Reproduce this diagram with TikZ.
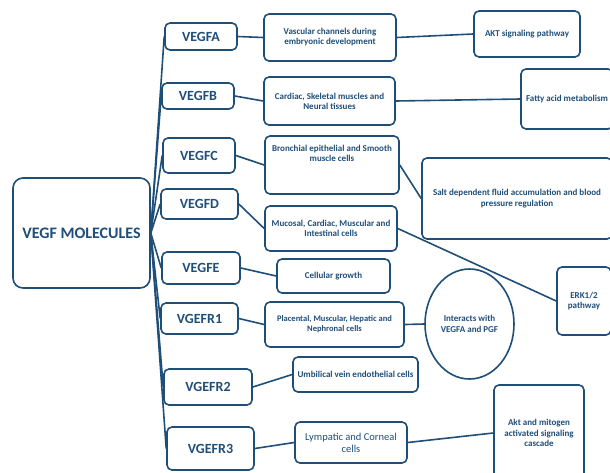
\documentclass[tikz,border=0pt]{standalone}
\usepackage{fontspec}
\setmainfont{Carlito}
\usetikzlibrary{shapes.geometric,positioning}
\definecolor{navy}{RGB}{31,78,121}

\begin{document}
\begin{tikzpicture}[
    x=1pt, y=-1pt,
    box/.style={rectangle, rounded corners=5pt, draw=navy, line width=1.6pt, fill=white, text=navy, align=center, inner sep=2pt},
    mol/.style={box, rounded corners=10pt, font=\fontsize{16}{18}\selectfont\bfseries},
    gene/.style={box, font=\fontsize{14}{16}\selectfont\bfseries},
    site/.style={box, font=\fontsize{9}{10}\selectfont\bfseries},
    role/.style={box, font=\fontsize{9}{10.5}\selectfont\bfseries},
    link/.style={draw=navy, line width=1.6pt}
]
\useasboundingbox (0,0) rectangle (610,472);

% Main node
\node[mol, minimum width=137pt, minimum height=110pt] (vegf) at (81.5,233) {VEGF MOLECULES};

% Molecules
\node[gene, minimum width=72pt, minimum height=27pt] (vegfa) at (201,36.5) {VEGFA};
\node[gene, minimum width=72pt, minimum height=26pt] (vegfb) at (198,96) {VEGFB};
\node[gene, minimum width=72pt, minimum height=35pt] (vegfc) at (199,155.5) {VEGFC};
\node[gene, minimum width=77pt, minimum height=30pt] (vegfd) at (199.5,204) {VEGFD};
\node[gene, minimum width=78pt, minimum height=32pt] (vegfe) at (201,268) {VEGFE};
\node[gene, minimum width=77pt, minimum height=31pt] (vgefra) at (199.5,318.5) {VGEFR1};
\node[gene, minimum width=88pt, minimum height=36pt] (vgefrb) at (208,387) {VGEFR2};
\node[gene, minimum width=87pt, minimum height=43pt] (vgefrc) at (210.5,448.5) {VGEFR3};

% Expression sites
\node[site, minimum width=132pt, minimum height=47pt] (vascular) at (330,37.5) {Vascular channels during\\embryonic development};
\node[site, minimum width=131pt, minimum height=48pt] (cardiac) at (329.5,101) {Cardiac, Skeletal muscles and\\Neural tissues};
\node[site, minimum width=134pt, minimum height=58pt] (bronchial) at (332,165) {Bronchial epithelial and Smooth\\muscle cells\\[14pt]};
\node[site, minimum width=132pt, minimum height=45pt] (mucosal) at (331,228.5) {Mucosal, Cardiac, Muscular and\\Intestinal cells};
\node[site, minimum width=113pt, minimum height=34pt] (growth) at (333.5,276) {Cellular growth};
\node[site, font=\fontsize{8.5}{10}\selectfont\bfseries, minimum width=139pt, minimum height=45pt] (placental) at (334.5,324.5) {Placental, Muscular, Hepatic and\\Nephronal cells};
\node[site, minimum width=125pt, minimum height=35pt] (umbilical) at (355.5,374.5) {Umbilical vein endothelial cells};
\node[box, font=\fontsize{10.5}{12}\selectfont, minimum width=112pt, minimum height=41pt] (lympatic) at (351,442.5) {Lympatic and Corneal\\cells};

% Functions
\node[role, minimum width=106pt, minimum height=46pt] (akt) at (527,34) {AKT signaling pathway};
\node[role, minimum width=92pt, minimum height=60pt] (fatty) at (567,99) {Fatty acid metabolism};
\node[role, minimum width=190pt, minimum height=81pt] (salt) at (517,198.5) {Salt dependent fluid accumulation and blood\\pressure regulation};
\node[role, minimum width=54pt, minimum height=68pt] (erk) at (584,301) {ERK1/2\\pathway};
\node[role, ellipse, minimum width=89pt, minimum height=110pt] (pgf) at (469.5,324) {Interacts with\\VEGFA and PGF};
\node[role, minimum width=90pt, minimum height=96pt] (mitogen) at (539,433) {Akt and mitogen\\activated signaling\\cascade};

% Branches from the main node
\foreach \g in {vegfa,vegfb,vegfc,vegfd,vegfe,vgefra,vgefrb,vgefrc}
  \draw[link] (vegf.east) -- (\g.west);

% Molecules to sites
\draw[link] (vegfa.east) -- (vascular.west);
\draw[link] (vegfb.east) -- (cardiac.west);
\draw[link] (vegfc.east) -- (bronchial.west);
\draw[link] (vegfd.east) -- (mucosal.west);
\draw[link] (vegfe.east) -- (growth.west);
\draw[link] (vgefra.east) -- (placental.west);
\draw[link] (vgefrb.east) -- (umbilical.west);
\draw[link] (vgefrc.east) -- (lympatic.west);

% Sites to functions
\draw[link] (vascular.east) -- (akt.west);
\draw[link] (cardiac.east) -- (fatty.west);
\draw[link] (bronchial.east) -- (salt.west);
\draw[link] (mucosal.east) -- (erk.west);
\draw[link] (placental.east) -- (pgf.west);
\draw[link] (lympatic.east) -- (mitogen.west);

\end{tikzpicture}
\end{document}
